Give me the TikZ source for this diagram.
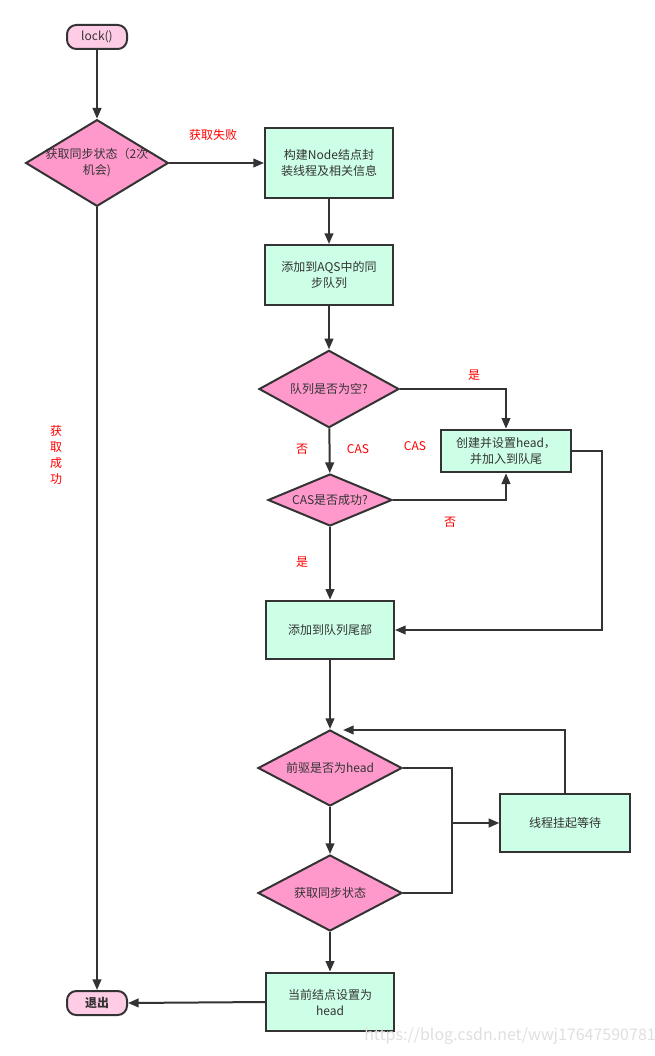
\documentclass[tikz,border=0pt]{standalone}
\usepackage{fontspec}
\setmainfont{Noto Sans CJK SC}
\usetikzlibrary{shapes.geometric,arrows.meta}
\definecolor{ink}{HTML}{333333}
\definecolor{pinkfill}{HTML}{FF99CC}
\definecolor{startfill}{HTML}{FFCCE6}
\definecolor{mint}{HTML}{CCFFE6}
\newcommand{\nowidth}[1]{\makebox[0pt]{#1}}
\begin{document}
\begin{tikzpicture}[x=0.75pt,y=-0.75pt,
  font=\fontsize{9}{12}\selectfont, text=ink,
  line width=1.5pt,
  link/.style={draw=ink},
  flow/.style={draw=ink,-{Triangle[length=8pt,width=6.5pt]}},
  term/.style={draw=ink,fill=startfill,rounded corners=7pt,minimum width=45pt,minimum height=18pt,inner sep=0pt},
  decide/.style={diamond,draw=ink,fill=pinkfill,inner sep=0pt,aspect=2,align=center},
  stepbox/.style={draw=ink,fill=mint,align=center,inner sep=0pt},
  tag/.style={text=red,font=\fontsize{9}{12}\selectfont}]
\useasboundingbox (0,0) rectangle (654,1056);
% left column
\node[term] (lock) at (97,37) {lock()};
\node[decide,minimum width=107pt,minimum height=65pt] (try) at (97,163) {\nowidth{获取同步状态（2次}\\\nowidth{机会)}};
\node[term] (quit) at (97,1003) {\textbf{退出}};
% right column
\node[stepbox,minimum width=96pt,minimum height=52pt] (build) at (329,163) {构建Node结点封\\装线程及相关信息};
\node[stepbox,minimum width=96pt,minimum height=45pt] (enq) at (329,275) {添加到AQS中的同\\步队列};
\node[decide,minimum width=105pt,minimum height=58pt] (empty) at (329,389) {队列是否为空?};
\node[stepbox,minimum width=98pt,minimum height=32pt] (mkhead) at (506,451) {创建并设置head，\\并加入到队尾};
\node[decide,minimum width=93pt,minimum height=39pt] (cas) at (330,500) {\nowidth{CAS是否成功?}};
\node[stepbox,minimum width=96pt,minimum height=44pt] (tail) at (330,630) {添加到队列尾部};
\node[decide,minimum width=108pt,minimum height=57pt] (prev) at (330,768) {前驱是否为head};
\node[decide,minimum width=108pt,minimum height=57pt] (acq) at (330,893) {获取同步状态};
\node[stepbox,minimum width=97pt,minimum height=44pt] (park) at (565,823) {线程挂起等待};
\node[stepbox,minimum width=96pt,minimum height=44pt] (sethead) at (330,1002) {当前结点设置为\\head};
% bend points
\coordinate (r1) at (602,540);
\coordinate (r2) at (452,823);
\coordinate (r3) at (343,730);
% connectors
\draw[flow] (lock) -- (try);
\draw[flow] (try) -- (build);
\draw[flow] (try) -- (quit);
\draw[flow] (build) -- (enq);
\draw[flow] (enq) -- (empty);
\draw[flow] (empty.east) -| (mkhead.north);
\draw[flow] (empty) -- (cas);
\draw[flow] (cas.east) -| (mkhead.south);
\draw[flow] (cas) -- (tail);
\draw[flow] (mkhead.east) -| (r1) |- (tail.east);
\draw[flow] (tail) -- (prev);
\draw[flow] (prev) -- (acq);
\draw[link] (prev.east) -| (r2);
\draw[link] (acq.east) -| (r2);
\draw[flow] (r2) -- (park.west);
\draw[flow] (park.north) |- (r3);
\draw[flow] (acq) -- (sethead);
\draw[flow] (sethead.west) -- (quit.east);
% labels
\node[tag] (fail) at (213,135) {获取失败};
\node[tag,align=center] (ok) at (56,455) {获\\取\\成\\功};
\node[tag] (yes1) at (474,375) {是};
\node[tag] (no1) at (302,449) {否};
\node[tag] (cas1) at (358,449) {CAS};
\node[tag] (cas2) at (415,446) {CAS};
\node[tag] (no2) at (450,522) {否};
\node[tag] (yes2) at (302,562) {是};
\node[text=gray!25,font=\fontsize{12}{14}\selectfont] (mark) at (510,1036) {https://blog.csdn.net/wwj17647590781};
\end{tikzpicture}
\end{document}
